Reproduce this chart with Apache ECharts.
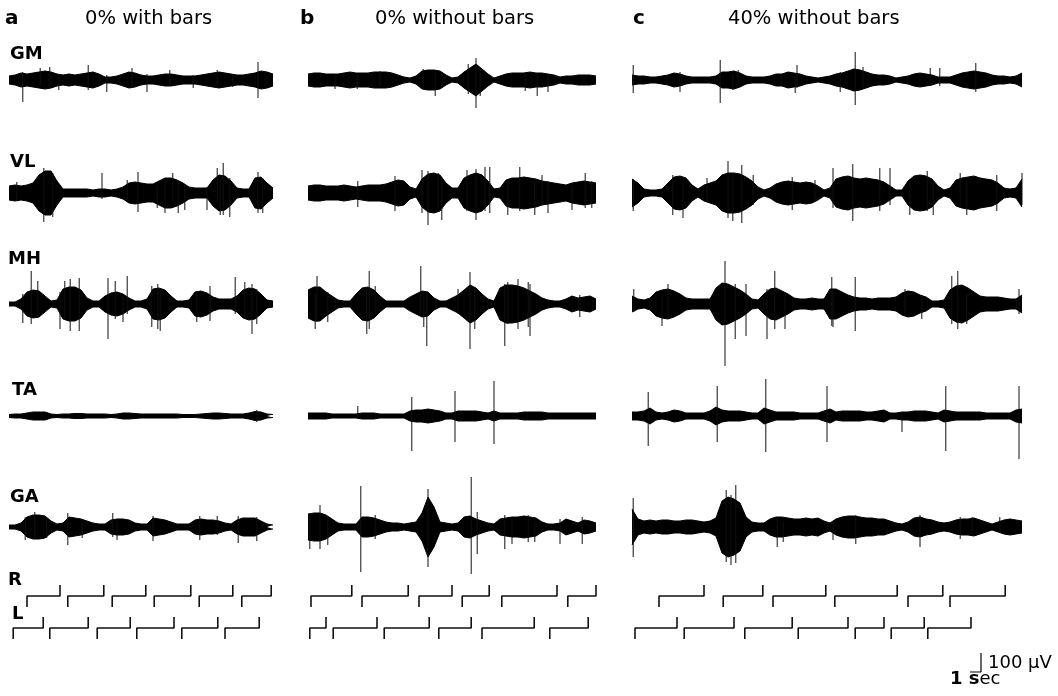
<!DOCTYPE html>
<html>
<head>
<meta charset="utf-8">
<script src="https://cdn.jsdelivr.net/npm/echarts@6/dist/echarts.min.js"></script>
<style>
  html, body { margin: 0; padding: 0; background: #fff; }
  #chart { width: 1058px; height: 696px; }
</style>
</head>
<body>
<div id="chart"></div>
<script>
const muscles = ['GM', 'VL', 'MH', 'TA', 'GA'];
const panelLetters = ['a', 'b', 'c'];
const panelTitles = ['0% with bars', '0% without bars', '40% without bars'];

// EMG envelope (half-amplitude) per sample
const envGM_a = [4,5,7,6,7,8,9,8,6,5,6,5,6,7,8,6,3,3,4,6,8,7,5,4,4,5,6,6,5,4,4,4,5,6,7,8,7,6,5,5,6,7,9,8,6];
const envVL_a = [7,8,7,8,10,18,22,22,12,4,4,4,4,4,3,4,4,3,4,6,10,11,10,9,9,12,15,15,13,10,6,5,5,5,13,18,17,12,5,4,4,15,16,10,5];
const envMH_a = [2,2,5,12,14,13,8,3,4,15,17,17,14,6,3,3,8,11,12,10,6,3,3,5,15,16,14,8,3,3,4,12,13,11,7,5,5,5,8,14,16,15,10,4,3];
const envTA_a = [1.5,2,2,3,4,4,4,2,1.5,2,2,2.5,2.5,2,2,2,2,1.5,2,3,3,2.5,2,2,2,2,2,2,2,1.5,1.5,1.5,2,2.5,3,3,2.5,2,2,2,3,4.5,4,2,1.5];
const envGA_a = [2,2,4,10,12,12,11,6,3,4,10,9,8,6,4,3,3,7,8,8,7,4,3,3,9,8,7,5,3,3,3,7,8,7,7,6,4,3,7,9,9,9,6,3,2];

const envGM_b = [6,7,7,6,6,6,7,8,7,7,7,8,8,8,7,5,3,2,4,9,10,10,9,5,2,3,8,12,16,11,6,2,4,6,7,7,7,8,7,7,6,5,3,4,4,5,5,5,4];
const envVL_b = [7,8,8,7,7,7,8,7,6,7,8,8,8,9,11,13,12,6,4,14,19,20,18,10,5,5,15,18,20,18,12,4,5,13,15,15,16,15,14,12,11,10,9,8,10,11,12,11,10];
const envMH_b = [14,17,17,12,8,4,3,3,10,16,17,14,8,3,3,3,3,7,10,13,12,6,3,3,6,9,14,19,16,10,5,3,16,19,19,18,16,13,10,6,4,3,3,5,8,6,7,8,5];
const envTA_b = [3,3,3,3,2,2,2,2,2,3,3,3,2,2,2,2,2,5,6,6,7,6,5,3,3,5,5,5,5,4,3,5,3,3,3,3,4,4,4,4,3,3,3,3,3,3,3,3,3];
const envGA_b = [13,14,14,12,8,4,3,3,3,10,10,9,7,5,4,4,3,4,5,14,30,20,5,4,3,4,10,11,8,6,4,3,8,9,10,10,11,10,9,5,3,3,4,8,6,4,7,6,4];

const envGM_c = [5,4,4,3,3,4,5,7,6,4,3,3,3,3,4,8,8,9,7,4,3,3,3,4,6,6,8,7,6,4,3,2,3,4,6,7,9,11,10,8,6,5,5,4,2,3,4,6,7,6,5,3,3,3,5,7,8,9,8,7,5,4,4,3,4,7];
const envVL_c = [14,10,4,3,3,4,10,16,17,15,8,4,8,10,12,18,20,20,19,16,12,6,3,5,9,11,12,11,10,11,10,7,3,5,14,16,17,15,14,15,14,13,11,7,3,3,12,17,18,17,14,7,3,5,13,15,16,17,15,14,13,10,5,4,5,14];
const envMH_c = [8,5,4,6,12,14,15,13,10,6,5,5,5,5,16,21,20,17,14,10,5,4,10,15,16,13,10,6,5,5,6,5,5,15,15,12,9,7,6,6,5,6,6,6,7,11,13,12,9,7,3,3,4,14,18,19,16,12,8,7,7,7,6,5,5,9];
const envTA_c = [4,4,5,8,4,3,4,6,5,3,3,3,3,5,9,6,5,5,5,4,3,3,8,6,4,4,4,4,3,3,3,3,5,7,4,5,5,5,5,4,4,5,6,3,3,4,4,5,5,5,4,3,6,5,4,4,4,4,4,3,3,3,3,3,6,7];
const envGA_c = [18,8,6,7,6,7,7,6,6,7,7,6,5,6,9,26,30,28,24,10,5,4,4,8,10,10,9,8,8,9,8,9,6,4,8,10,11,11,10,9,9,8,8,6,4,3,5,9,10,8,7,5,4,5,7,8,8,9,7,5,3,5,7,8,7,6];

// single spikes sticking out of the bursts: [sample, up, down]
const spkGM_a = [[2.3,8,22],[5.2,12,6],[6.8,13,8],[8.3,6,10],[13.2,15,10],[16.3,5,12],[20.5,12,7],[23,6,12],[26.8,10,6],[30.7,5,8],[34.7,10,6],[37.3,6,7],[41.5,18,18]];
const spkVL_a = [[1.3,11,7],[5.8,25,29],[7.3,20,24],[15.5,20,6],[19.7,13,6],[21.5,21,19],[24.7,8,15],[26,12,20],[27.3,20,8],[28.2,10,20],[29.3,8,17],[33,6,17],[34.7,25,10],[35.2,15,22],[35.7,30,22],[36.8,15,24],[41.5,21,20],[42.3,15,20]];
const spkMH_a = [[2.3,10,19],[3.7,33,20],[4.8,23,14],[8.5,12,25],[9.3,23,15],[10.2,25,27],[11.7,26,27],[16.5,26,35],[17.7,23,15],[19,8,18],[19.7,28,10],[23.8,18,23],[24.8,20,25],[25.2,15,27],[31.3,13,18],[33.5,18,17],[37.7,27,10],[39.3,22,15],[40.5,20,30],[41.3,15,20]];
const spkTA_a = [[41.3,6,6]];
const spkGA_a = [[2.7,10,13],[4.3,15,12],[6.3,8,11],[9.8,14,18],[12.2,6,11],[17.3,14,10],[18,6,13],[24,11,14],[31.8,11,13],[34.7,11,8],[38.2,11,16],[41.3,10,14]];

const spkGM_b = [[4.5,6,9],[8.2,6,9],[12,9,6],[19.2,11,8],[21.2,8,16],[26.7,16,14],[28,22,28],[28.7,12,16],[36.2,8,11],[38.2,7,16],[40,6,12]];
const spkVL_b = [[8.3,12,14],[14.5,17,18],[19,23,20],[20,22,32],[21.7,20,15],[22.3,15,27],[26.5,23,18],[28,24,27],[29.5,26,18],[30.3,26,20],[33.3,12,22],[35.3,26,18],[37.8,14,22],[39,18,12],[40,12,20],[44,10,17],[46.2,20,15],[47.3,12,15]];
const spkMH_b = [[1.2,10,25],[1.5,28,18],[3.3,12,18],[9.8,15,30],[10.2,33,25],[11.2,18,10],[18.8,38,10],[19.3,8,23],[19.8,12,42],[25,15,10],[27,32,45],[27.8,15,25],[32.8,20,42],[33.3,22,20],[35,25,25],[36.7,22,23],[37,20,32],[45.3,9,13]];
const spkTA_b = [[8.3,10,3],[17.3,19,35],[24.5,25,26],[31,35,28]];
const spkGA_b = [[0.3,12,22],[2,22,22],[3.3,10,18],[8.8,41,45],[11.2,12,12],[20,38,40],[27.2,50,47],[28.2,15,27],[32.8,12,22],[34,8,17],[36.7,12,15],[37.8,6,15],[42,8,17],[45.7,10,17]];

const spkGM_c = [[0.2,15,13],[8,8,12],[14.7,20,23],[16.8,6,10],[17.7,10,6],[27.2,6,13],[27.5,15,8],[34.7,8,12],[37.2,28,25],[38.5,13,8],[49.7,12,6],[51.3,12,6],[57.3,17,12]];
const spkVL_c = [[0.2,14,18],[6.8,18,22],[8.5,12,25],[12.5,15,8],[16,32,25],[16.8,20,28],[18.3,28,30],[20.2,18,12],[26.7,16,17],[30.5,13,8],[33.5,25,15],[36.8,29,28],[41.3,25,18],[43,25,12],[46.3,12,22],[49.2,22,18],[50.2,10,22],[54.7,20,15],[55.8,12,22],[60.8,18,18],[65,20,12]];
const spkMH_c = [[0.3,15,8],[5,10,22],[6,20,15],[15.5,43,62],[17.2,20,35],[19,20,32],[22.5,15,35],[23.8,33,25],[25.5,12,25],[33.3,27,22],[33.5,12,23],[37.2,27,27],[45.5,15,12],[48.3,8,15],[53.3,28,20],[54.3,33,25],[55.8,10,20],[64.5,15,10]];
const spkTA_c = [[2.7,24,30],[14.2,30,26],[22.3,37,36],[32.5,30,26],[45,3,16],[52.3,30,35],[64.5,30,43]];
const spkGA_c = [[0.2,29,30],[15.7,37,35],[16.5,32,38],[17.3,42,36],[24.2,10,20],[25.2,6,15],[33.5,6,13],[37.3,12,17],[48,12,20],[54.7,10,12],[56.7,10,6],[61.3,10,6]];

// foot contact (R / L) intervals, in samples
const stepR_a = [[3.0,8.5],[9.8,15.8],[17.2,22.8],[24.2,30.3],[31.7,37.3],[38.8,43.7]];
const stepL_a = [[0.7,5.7],[6.8,13.2],[14.7,20.2],[21.3,27.5],[28.8,34.8],[36.0,41.7]];
const stepR_b = [[0.5,7.3],[9.0,16.7],[18.5,24.0],[25.7,30.2],[32.3,41.5],[43.3,48]];
const stepL_b = [[0.3,3.0],[4.2,11.5],[12.7,20.2],[21.8,27.2],[29.0,37.7],[40.3,46.7]];
const stepR_c = [[4.5,12.0],[15.2,21.8],[23.5,32.3],[33.8,44.2],[46.0,51.8],[53.0,62.2]];
const stepL_c = [[0.5,7.5],[8.7,17.0],[18.8,26.7],[27.7,36.0],[37.2,42.0],[43.2,48.7],[49.3,56.5]];

// scale bar: 1 sec, 100 uV
const scaleSec = [0, 1];
const scaleUV = [0, 100];

const envelopes = [
  [envGM_a, envVL_a, envMH_a, envTA_a, envGA_a],
  [envGM_b, envVL_b, envMH_b, envTA_b, envGA_b],
  [envGM_c, envVL_c, envMH_c, envTA_c, envGA_c],
];
const spikes = [
  [spkGM_a, spkVL_a, spkMH_a, spkTA_a, spkGA_a],
  [spkGM_b, spkVL_b, spkMH_b, spkTA_b, spkGA_b],
  [spkGM_c, spkVL_c, spkMH_c, spkTA_c, spkGA_c],
];
const stepsR = [stepR_a, stepR_b, stepR_c];
const stepsL = [stepL_a, stepL_b, stepL_c];

// layout
const colLeft = [9, 308, 632];
const colWidth = [264, 288, 390];
const rowBase = [80, 193, 304, 416, 527];
const half = 55;

const chart = echarts.init(document.getElementById('chart'));

const grids = [];
const xAxes = [];
const yAxes = [];
const series = [];

function addGrid(left, width, top, height, xmin, xmax, ymin, ymax) {
  const idx = grids.length;
  grids.push({ left, width, top, height, containLabel: false });
  xAxes.push({ type: 'value', gridIndex: idx, min: xmin, max: xmax, show: false });
  yAxes.push({ type: 'value', gridIndex: idx, min: ymin, max: ymax, show: false });
  return idx;
}

function lineSeries(g, data, extra) {
  return Object.assign({
    type: 'line',
    xAxisIndex: g,
    yAxisIndex: g,
    data,
    symbol: 'none',
    silent: true,
    animation: false,
    lineStyle: { color: '#000', width: 1 },
  }, extra || {});
}

panelLetters.forEach((p, c) => {
  muscles.forEach((m, r) => {
    const env = envelopes[c][r];
    const g = addGrid(colLeft[c], colWidth[c], rowBase[r] - half, half * 2, 0, env.length - 1, -half, half);
    series.push(lineSeries(g, env.map((v, i) => [i, v]), {
      areaStyle: { color: '#000', opacity: 1 },
    }));
    series.push(lineSeries(g, env.map((v, i) => [i, -v]), {
      areaStyle: { color: '#000', opacity: 1 },
    }));
    const spk = [];
    spikes[c][r].forEach((s) => {
      spk.push([s[0], s[1]], [s[0], -s[2]], [s[0], '-']);
    });
    series.push(lineSeries(g, spk, { clip: false, lineStyle: { color: '#111', width: 1 } }));
  });

  // foot contact traces
  const n = envelopes[c][0].length - 1;
  [[stepsR[c], 585], [stepsL[c], 617]].forEach(([steps, top]) => {
    const g = addGrid(colLeft[c], colWidth[c], top, 22, 0, n, -1, 1);
    const d = [];
    steps.forEach(([s, e]) => {
      d.push([s, -1], [s, 0], [e, 0], [e, 1], [e, '-']);
    });
    series.push(lineSeries(g, d, { clip: false, lineStyle: { color: '#111', width: 1.6 } }));
  });
});

// scale bar
const gs = addGrid(970, 11, 653, 19, scaleSec[0], scaleSec[1], scaleUV[0], scaleUV[1]);
series.push(lineSeries(gs, [[scaleSec[0], scaleUV[0]], [scaleSec[1], scaleUV[0]], [scaleSec[1], scaleUV[1]]], {
  clip: false,
  lineStyle: { color: '#000', width: 1.2 },
}));

const font = '"DejaVu Sans", sans-serif';
const texts = [];
function addText(x, y, text, size, bold) {
  texts.push({
    type: 'text',
    x,
    y,
    silent: true,
    style: {
      text,
      fill: '#000',
      font: (bold ? 'bold ' : '') + size + 'px ' + font,
      verticalAlign: 'middle',
      align: 'left',
    },
  });
}

const letterX = [5, 300, 633];
const titleX = [85, 375, 728];
panelLetters.forEach((p, c) => {
  addText(letterX[c], 19, p, 20, true);
  addText(titleX[c], 19, panelTitles[c], 19.5, false);
});
const labelX = [10, 10, 8, 12, 10];
const labelY = [54, 162, 259, 390, 497];
muscles.forEach((m, r) => addText(labelX[r], labelY[r], m, 18, true));
addText(8, 580, 'R', 18, true);
addText(12, 614, 'L', 18, true);
addText(988, 663, '100 \u00b5V', 18, false);
texts.push({
  type: 'text',
  x: 950,
  y: 679,
  silent: true,
  style: {
    text: '{b|1 s}{n|ec}',
    verticalAlign: 'middle',
    rich: {
      b: { font: 'bold 18px ' + font, fill: '#000' },
      n: { font: '18px ' + font, fill: '#000' },
    },
  },
});

chart.setOption({
  animation: false,
  grid: grids,
  xAxis: xAxes,
  yAxis: yAxes,
  series,
  graphic: { elements: texts },
});

window.addEventListener('resize', () => {
  chart.resize();
});
</script>
</body>
</html>
